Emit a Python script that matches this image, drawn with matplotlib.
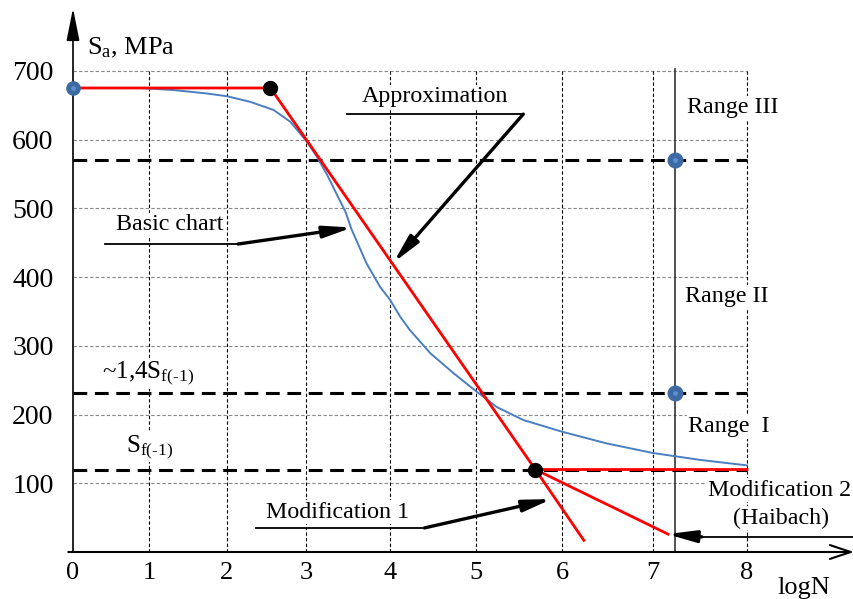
import numpy as np
import matplotlib
matplotlib.use('Agg')
import matplotlib.pyplot as plt

plt.rcParams['font.family'] = ['Liberation Serif', 'DejaVu Serif']
plt.rcParams['mathtext.fontset'] = 'custom'
plt.rcParams['mathtext.rm'] = 'Liberation Serif'
plt.rcParams['mathtext.it'] = 'Liberation Serif:italic'

# basic S-N curve (blue)
logn_basic = [0, 0.5, 0.88, 1.32, 1.74, 2.0, 2.29, 2.59, 2.8, 3.01, 3.13, 3.25,
              3.4, 3.47, 3.54, 3.63, 3.72, 3.88, 4.0, 4.12, 4.23, 4.47, 4.74,
              5.0, 5.24, 5.55, 6.0, 6.49, 7.0, 7.5, 8.0]
sa_basic = [675, 675, 675, 672, 667, 663, 655, 643, 626, 597, 575, 549,
            512, 495, 470, 445, 420, 386, 367, 342, 323, 289, 260,
            234, 211, 192, 175, 158, 144, 134, 126]

# approximation (red)
logn_approx = [0, 2.55, 5.69, 8]
sa_approx = [675, 675, 120, 120]
logn_mod1 = [5.69, 6.24]
sa_mod1 = [120, 17]
logn_mod2 = [5.69, 7.16]
sa_mod2 = [120, 26]
knee_x = [2.55, 5.69]
knee_y = [675, 120]

# range borders
levels = [570, 231, 120]
range_x = 7.23
range_y = [570, 231]

x_ticks = [0, 1, 2, 3, 4, 5, 6, 7, 8]
y_ticks = [100, 200, 300, 400, 500, 600, 700]

# uneven spacing of the hand-drawn log axis
knots = np.array([-2, 0, 1, 2, 3, 4, 5, 6, 7, 8, 12])
knot_px = np.array([-79, 73, 149, 227, 306, 390, 476, 562, 653, 747, 1123])


def fwd(x):
    return np.interp(x, knots, knot_px)


def inv(p):
    return np.interp(p, knot_px, knots)


fig = plt.figure(figsize=(8.54, 5.99), dpi=100)
ax = fig.add_axes([73 / 854, 47 / 599, 781 / 854, 552 / 599])
ax.set_xscale('function', functions=(fwd, inv))
ax.set_xlim(0, float(inv(854)))
ax.set_ylim(0, 803)
for s in ax.spines.values():
    s.set_visible(False)

ax.set_xticks(x_ticks)
ax.set_xticklabels([str(t) for t in x_ticks])
ax.set_yticks(y_ticks)
ax.set_yticklabels([str(t) for t in y_ticks])
ax.xaxis.set_minor_locator(plt.NullLocator())
ax.tick_params(axis='both', length=0)
ax.tick_params(axis='y', pad=14, labelsize=20)
ax.tick_params(axis='x', pad=7, labelsize=19)

# grid
ax.hlines(y_ticks, 0, 8, colors='#888888', lw=0.8, linestyles=(0, (3, 2)), zorder=1)
ax.vlines(x_ticks[1:], 0, 700, colors='black', lw=0.8, linestyles=(0, (3, 2)), zorder=1)

# axes with arrows
ax.annotate('', xy=(0, 791), xytext=(0, 0), xycoords='data',
            arrowprops=dict(arrowstyle='-|>,head_length=2.0,head_width=0.4',
                            mutation_scale=10, lw=1.2, color='black',
                            shrinkA=0, shrinkB=0), annotation_clip=False)
ax.annotate('', xy=(1.0, 0), xytext=(-0.006, 0), xycoords='axes fraction',
            arrowprops=dict(arrowstyle='->,head_length=1.5,head_width=0.5',
                            mutation_scale=10, lw=1.5, color='black',
                            shrinkA=0, shrinkB=0), annotation_clip=False)

# range line
ax.plot([range_x, range_x], [0, 703], color='#333333', lw=1.2, zorder=2)

# dashed levels
ax.hlines(levels, 0, 8, colors='black', lw=2.2, linestyles=(0, (4.5, 2.5)), zorder=3)

# curves
ax.plot(logn_basic, sa_basic, color='#4a7fc1', lw=1.4, zorder=4)
ax.plot(logn_approx, sa_approx, color='#ff0000', lw=2.0, zorder=5)
ax.plot(logn_mod1, sa_mod1, color='#ff0000', lw=2.0, zorder=5)
ax.plot(logn_mod2, sa_mod2, color='#ff0000', lw=2.0, zorder=5)

# points
ax.plot(knee_x, knee_y, 'o', color='black', ms=10, zorder=6)
ax.plot([0], [675], 'o', color='#3d6aa3', ms=9.5, zorder=6, clip_on=False)
ax.plot([range_x] * 2, range_y, 'o', color='#3d6aa3', ms=10.5, zorder=6)
ax.plot([0, range_x, range_x], [675] + range_y, 'o', color='#5a8fd0', ms=2.5, zorder=7,
        clip_on=False)

white = dict(facecolor='white', edgecolor='none', pad=1)
arrow = dict(arrowstyle='-|>,head_length=1.7,head_width=0.35', mutation_scale=10,
             lw=2.4, color='black', shrinkA=0, shrinkB=0)
fs = 17.3

# labels
ax.text(0.18, 733, r'S$_{\mathrm{a}}$, MPa', fontsize=19, ha='left', va='center')
ax.text(8.61, -52, 'logN', fontsize=19, ha='center', va='center', clip_on=False)
ax.text(0.99, 260, '~1,4S$_{\\mathrm{f(\u20101)}}$', fontsize=18, ha='center', va='center',
        bbox=white, zorder=2)
ax.text(1.01, 153, 'S$_{\\mathrm{f(\u20101)}}$', fontsize=18, ha='center', va='center',
        bbox=white, zorder=2)

ax.text(7.85, 646, 'Range III', fontsize=fs, ha='center', va='center', bbox=white, zorder=2)
ax.text(7.78, 371, 'Range II', fontsize=fs, ha='center', va='center', bbox=white, zorder=2)
ax.text(7.81, 182, 'Range  I', fontsize=fs, ha='center', va='center', bbox=white, zorder=2)

# approximation
ax.text(4.52, 662, 'Approximation', fontsize=fs, ha='center', va='center', bbox=white, zorder=2)
ax.plot([3.49, 5.55], [637, 637], color='black', lw=1.3, zorder=8)
ax.annotate('', xy=(4.04, 421), xytext=(5.55, 637), arrowprops=arrow, zorder=8)

# basic chart
ax.text(1.27, 476, 'Basic chart', fontsize=fs, ha='center', va='center', bbox=white, zorder=2)
ax.plot([0.42, 2.14], [448, 448], color='black', lw=1.3, zorder=8)
ax.annotate('', xy=(3.55, 472), xytext=(2.14, 448), arrowprops=arrow, zorder=8)

# modification 1
ax.text(3.37, 58, 'Modification 1', fontsize=fs, ha='center', va='center', bbox=white, zorder=2)
ax.plot([2.37, 4.40], [35, 35], color='black', lw=1.3, zorder=8)
ax.annotate('', xy=(5.88, 77), xytext=(4.40, 35), arrowprops=arrow, zorder=8)

# modification 2
ax.text(8.35, 90, 'Modification 2', fontsize=fs, ha='center', va='center', bbox=white, zorder=2)
ax.text(8.36, 49, '(Haibach)', fontsize=fs, ha='center', va='center', bbox=white, zorder=2)
ax.plot([7.52, 9.14], [22, 22], color='black', lw=1.3, zorder=8, clip_on=False)
ax.annotate('', xy=(7.15, 26), xytext=(7.52, 22), arrowprops=arrow, zorder=8)

fig.savefig('out.png', dpi=100)
